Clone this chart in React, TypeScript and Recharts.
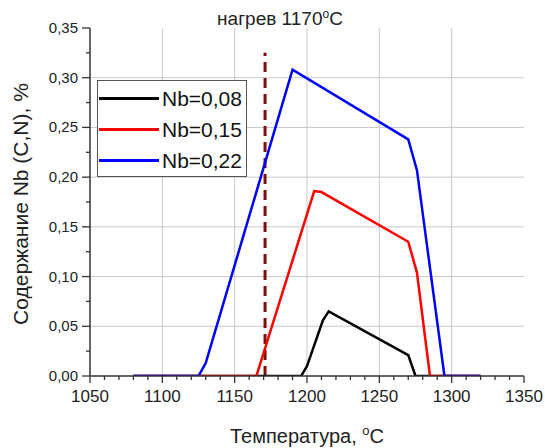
import {
  LineChart,
  Line,
  XAxis,
  YAxis,
  CartesianGrid,
  ReferenceLine,
  Legend,
  Label,
} from 'recharts';

// temperature, °C
const blackT = [1080, 1196, 1200, 1211, 1215, 1270, 1275, 1320];
const redT = [1080, 1165, 1205, 1210, 1270, 1276, 1285, 1320];
const blueT = [1080, 1125, 1130, 1190, 1270, 1276, 1295, 1320];

// Nb (C,N) content, %
const blackNb = [0, 0, 0.01, 0.056, 0.065, 0.021, 0, 0];
const redNb = [0, 0, 0.186, 0.185, 0.135, 0.104, 0, 0];
const blueNb = [0, 0, 0.013, 0.308, 0.238, 0.207, 0, 0];

const seriesNames = ['Nb=0,08', 'Nb=0,15', 'Nb=0,22'];
const seriesColors = ['#000000', '#ff0000', '#0000ff'];

const heatTemp = 1171;

const xMajor = [1050, 1100, 1150, 1200, 1250, 1300, 1350];
const yMajor = [0, 0.05, 0.1, 0.15, 0.2, 0.25, 0.3, 0.35];
const xGrid = [1100, 1150, 1200, 1250, 1300];
const yGrid = [0.05, 0.1, 0.15, 0.2, 0.25, 0.3];

// minor ticks: 10 °C and 0.025 %
const xTicks: number[] = [];
for (let t = 1050; t <= 1350; t += 10) xTicks.push(t);
const yTicks: number[] = [];
for (let i = 0; i <= 14; i++) yTicks.push(Math.round(i * 25) / 1000);

const toPoints = (ts: number[], vs: number[]) => ts.map((t, i) => ({ t, nb: vs[i] }));
const series = [
  toPoints(blackT, blackNb),
  toPoints(redT, redNb),
  toPoints(blueT, blueNb),
];

const AXIS = '#333333';
const FONT = '"Liberation Sans", Arial, sans-serif';

function XTick({ x, y, payload }: any) {
  const major = xMajor.includes(payload.value);
  return (
    <g>
      <line x1={x} y1={y} x2={x} y2={y + (major ? 7 : 4)} stroke={AXIS} strokeWidth={1.3} />
      {major && (
        <text x={x} y={y + 26} textAnchor="middle" fontSize={17} fill="#222">
          {payload.value}
        </text>
      )}
    </g>
  );
}

function YTick({ x, y, payload }: any) {
  const major = yMajor.some((v) => Math.abs(v - payload.value) < 1e-6);
  return (
    <g>
      <line x1={x - (major ? 8 : 4)} y1={y} x2={x} y2={y} stroke={AXIS} strokeWidth={1.3} />
      {major && (
        <text x={x - 12} y={y + 5} textAnchor="end" fontSize={15} fill="#222">
          {payload.value.toFixed(2).replace('.', ',')}
        </text>
      )}
    </g>
  );
}

function LegendBox() {
  return (
    <div
      style={{
        border: '1px solid #555',
        background: '#fff',
        width: 148,
        height: 95,
        boxSizing: 'content-box',
        fontFamily: FONT,
      }}
    >
      {seriesNames.map((name, i) => (
        <div key={name} style={{ display: 'flex', alignItems: 'center', height: 31, marginTop: i === 0 ? 2 : 0 }}>
          <div style={{ width: 60, height: 3, background: seriesColors[i], marginLeft: 1 }} />
          <span style={{ fontSize: 21, marginLeft: 3, color: '#111', lineHeight: '31px' }}>{name}</span>
        </div>
      ))}
    </div>
  );
}

export default function App() {
  return (
    <div style={{ position: 'absolute', left: 0, top: 0, fontFamily: FONT }}>
      <LineChart width={545} height={448} margin={{ top: 28, right: 21, bottom: 0, left: 0 }}>
        <CartesianGrid
          stroke="#c8c8c8"
          strokeWidth={1}
          verticalValues={xGrid}
          horizontalValues={yGrid}
        />
        <XAxis
          type="number"
          dataKey="t"
          domain={[1050, 1350]}
          ticks={xTicks}
          interval={0}
          height={72}
          tickSize={0}
          tickMargin={0}
          tickLine={false}
          tick={<XTick />}
          axisLine={{ stroke: AXIS, strokeWidth: 1.5 }}
          allowDataOverflow
        >
          <Label
            content={() => (
              <text x={307} y={443} textAnchor="middle" fontSize={20} fill="#222" fontFamily={FONT}>
                Температура,{' '}
                <tspan dy={-8} fontSize={13}>o</tspan>
                <tspan dy={8}>C</tspan>
              </text>
            )}
          />
        </XAxis>
        <YAxis
          type="number"
          domain={[0, 0.35]}
          ticks={yTicks}
          interval={0}
          width={90}
          tickSize={0}
          tickMargin={0}
          tickLine={false}
          tick={<YTick />}
          axisLine={{ stroke: AXIS, strokeWidth: 1.5 }}
          allowDataOverflow
        >
          <Label
            content={() => (
              <g>
                <text
                  x={0}
                  y={0}
                  transform="translate(28 204) rotate(-90)"
                  textAnchor="middle"
                  fontSize={21}
                  fill="#222"
                  fontFamily={FONT}
                >
                  Содержание Nb (C,N), %
                </text>
                <text x={280} y={25} textAnchor="middle" fontSize={19} fill="#222" fontFamily={FONT}>
                  нагрев 1170
                  <tspan dy={-7} fontSize={12}>o</tspan>
                  <tspan dy={7}>C</tspan>
                </text>
              </g>
            )}
          />
        </YAxis>
        <ReferenceLine
          segment={[
            { x: heatTemp, y: 0 },
            { x: heatTemp, y: 0.325 },
          ]}
          stroke="#7a1010"
          strokeWidth={3}
          strokeDasharray="10 6"
        />
        <Legend
          layout="vertical"
          align="center"
          verticalAlign="middle"
          content={() => <LegendBox />}
          wrapperStyle={{ left: 97, top: 80, width: 150, height: 97 }}
        />
        {series.map((d, i) => (
          <Line
            key={seriesNames[i]}
            data={d}
            dataKey="nb"
            name={seriesNames[i]}
            type="linear"
            stroke={seriesColors[i]}
            strokeWidth={2.5}
            dot={false}
            isAnimationActive={false}
          />
        ))}
      </LineChart>
    </div>
  );
}
